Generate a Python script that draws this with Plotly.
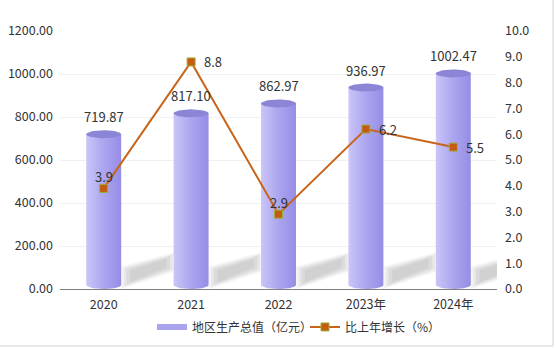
import numpy as np
import plotly.graph_objects as go

# Data
years = ["2020", "2021", "2022", "2023年", "2024年"]
gdp = [719.87, 817.10, 862.97, 936.97, 1002.47]          # 地区生产总值（亿元）
growth = [3.9, 8.8, 2.9, 6.2, 5.5]                       # 比上年增长（%）
growth_pos = ["top", "right", "top", "right", "right"]   # label side per point
left_ticks = [0, 200, 400, 600, 800, 1000, 1200]
right_ticks = [0, 1, 2, 3, 4, 5, 6, 7, 8, 9, 10]

W, H = 556, 348
M = dict(l=60, r=59, t=31, b=59, autoexpand=False)
FONT = "Noto Sans CJK SC, Noto Sans, sans-serif"
TXT = "#333333"

half_w = 0.2        # half width of a cylinder in category units
cap = 18.5          # half height of the elliptical cap, in left-axis units

body_scale = [[0, "#cac6f7"], [0.45, "#aea8f0"], [1, "#958de6"]]
cap_color = "#8c85d6"

fig = go.Figure()

t = np.linspace(0, np.pi, 25)
for i, v in enumerate(gdp):
    # cylinder body with rounded bottom
    xs = [i - half_w, i + half_w]
    ys = [v, v]
    xs += list(i + half_w * np.cos(t))
    ys += list(cap - cap * np.sin(t))
    xs.append(i - half_w)
    ys.append(v)
    fig.add_trace(go.Scatter(
        x=xs, y=ys, mode="lines", fill="toself",
        line=dict(width=0, color="rgba(0,0,0,0)"),
        fillgradient=dict(type="horizontal", colorscale=body_scale),
        hoverinfo="skip", showlegend=False))
    # top ellipse
    tt = np.linspace(0, 2 * np.pi, 49)
    fig.add_trace(go.Scatter(
        x=list(i + half_w * np.cos(tt)), y=list(v + cap * np.sin(tt)),
        mode="lines", fill="toself", fillcolor=cap_color,
        line=dict(width=0, color=cap_color),
        hoverinfo="skip", showlegend=False))
    # value label
    fig.add_annotation(x=i, y=v, text=f"{v:.2f}", showarrow=False,
                       yanchor="bottom", yshift=6,
                       font=dict(family=FONT, size=13, color=TXT))
    # soft diagonal shadow cast behind each cylinder (stacked for a blurred edge)
    x0s, x1s = i + half_w, i + 0.82
    for d, dx, a in [(0, 0.0, 0.045), (10, 0.03, 0.05), (20, 0.06, 0.05), (30, 0.1, 0.045)]:
        pts = [(x0s + dx, 0 + d), (x0s + dx, 105 - d * 0.6),
               (x1s - dx, 172 - d), (x1s - dx, 82 + d * 0.6)]
        path = "M " + " L ".join(f"{px},{py}" for px, py in pts) + " Z"
        fig.add_shape(type="path", path=path, xref="x", yref="y",
                      fillcolor=f"rgba(0,0,0,{a})", line=dict(width=0),
                      layer="below")

# legend entries
fig.add_trace(go.Scatter(
    x=[None], y=[None], mode="lines", name="地区生产总值（亿元）",
    line=dict(color="#aaa4ef", width=6), legend="legend"))

fig.add_trace(go.Scatter(
    x=list(range(len(years))), y=growth, yaxis="y2",
    mode="lines+markers", name="比上年增长（%）",
    line=dict(color="#c8651b", width=2),
    marker=dict(symbol="square", size=8, color="#c55a11",
                line=dict(color="#9fae3c", width=1)),
    hoverinfo="skip", legend="legend2"))

# growth labels
for i, (g, side) in enumerate(zip(growth, growth_pos)):
    if side == "top":
        kw = dict(xanchor="center", yanchor="middle", yshift=12)
    else:
        kw = dict(xanchor="left", yanchor="middle", xshift=11)
    fig.add_annotation(x=i, y=g, yref="y2", text=f"{g:.1f}", showarrow=False,
                       font=dict(family=FONT, size=13, color=TXT), **kw)

pw = W - M["l"] - M["r"]
ph = H - M["t"] - M["b"]
leg_font = dict(family=FONT, size=12, color=TXT)

fig.update_layout(
    width=W, height=H, margin=M,
    paper_bgcolor="white", plot_bgcolor="white",
    font=dict(family=FONT, size=12, color=TXT),
    xaxis=dict(range=[-0.5, 4.5], tickvals=list(range(len(years))),
               ticktext=years, showgrid=False, zeroline=False,
               showline=True, linecolor="#808080", linewidth=1,
               ticks="", ticklabelstandoff=4, fixedrange=True,
               tickfont=dict(size=12.5)),
    yaxis=dict(range=[0, 1200], tickvals=left_ticks,
               ticktext=[f"{v:.2f}" for v in left_ticks],
               showgrid=True, gridcolor="#f0f0f0", zeroline=False,
               showline=False, ticks="", ticklabelstandoff=6,
               tickfont=dict(size=12.5)),
    yaxis2=dict(range=[0, 10], tickvals=right_ticks,
                ticktext=[f"{v:.1f}" for v in right_ticks],
                overlaying="y", side="right", showgrid=False,
                zeroline=False, showline=False, ticks="",
                ticklabelstandoff=7, tickfont=dict(size=12.5)),
    legend=dict(orientation="h", x=(152 - M["l"]) / pw, xanchor="left",
                y=-0.147, yanchor="middle", font=leg_font,
                itemwidth=30, bgcolor="rgba(0,0,0,0)"),
    legend2=dict(orientation="h", x=(305 - M["l"]) / pw, xanchor="left",
                 y=-0.147, yanchor="middle", font=leg_font,
                 itemwidth=30, bgcolor="rgba(0,0,0,0)"),
)

# thin frame on the right and bottom edges
xr = (553 - M["l"]) / pw
yb = -(M["b"] - 2) / ph
fig.add_shape(type="line", xref="paper", yref="paper",
              x0=xr, x1=xr, y0=yb, y1=(H - M["b"]) / ph,
              line=dict(color="#d4d4d4", width=1))
fig.add_shape(type="line", xref="paper", yref="paper",
              x0=-M["l"] / pw, x1=xr, y0=yb, y1=yb,
              line=dict(color="#d4d4d4", width=1))

fig.write_html("out.html")
